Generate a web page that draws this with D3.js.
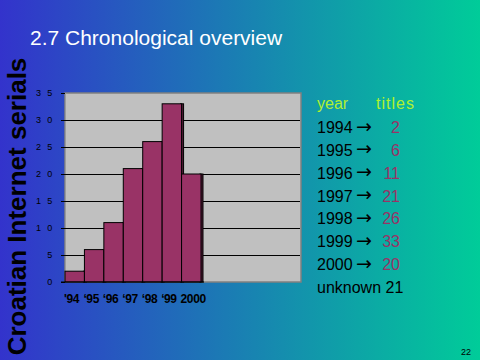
<!DOCTYPE html>
<html><head><meta charset="utf-8">
<script src="https://cdn.jsdelivr.net/npm/d3@7"></script>
<style>html,body{margin:0;padding:0;overflow:hidden;background:#000}svg{display:block}</style>
</head><body>
<script>
const categories = ["'94", "‘95", "‘96", "‘97", "‘98", "‘99", "2000"];
const titles = [2, 6, 11, 21, 26, 33, 20];
const years = ["1994", "1995", "1996", "1997", "1998", "1999", "2000"];
const yTicks = [0, 5, 10, 15, 20, 25, 30, 35];
const yTickLabels = ["0", "5", "1 0", "1 5", "2 0", "2 5", "3 0", "3 5"];
const unknownCount = 21;

const W = 480, H = 360;
const svg = d3.select("body").append("svg").attr("width", W).attr("height", H);
const defs = svg.append("defs");
const grad = defs.append("linearGradient").attr("id", "bg").attr("x1", "0").attr("x2", "1").attr("y1", "0").attr("y2", "0");
grad.append("stop").attr("offset", "0").attr("stop-color", "#3333cc");
grad.append("stop").attr("offset", "1").attr("stop-color", "#00cc99");
svg.append("rect").attr("width", W).attr("height", H).attr("fill", "url(#bg)");

const tf = "Liberation Sans, Arial, sans-serif";

// Slide title
svg.append("text").attr("x", 30).attr("y", 45).attr("fill", "#fff")
  .style("font-family", tf).style("font-size", "21px")
  .text("2.7 Chronological overview");

// Vertical title
svg.append("text").attr("transform", "translate(26,206.5) rotate(-90)")
  .attr("text-anchor", "middle").attr("fill", "#000")
  .style("font-family", tf).style("font-size", "26px").style("font-weight", "bold")
  .text("Croatian Internet serials");

// Plot
const px0 = 65, px1 = 301, py0 = 93, py1 = 282;
const y = d3.scaleLinear().domain([0, 35]).range([py1, py0]);
const x = d3.scaleBand().domain(categories).range([px0, 201]).padding(0);

svg.append("rect").attr("x", px0).attr("y", py0).attr("width", px1 - px0).attr("height", py1 - py0)
  .attr("fill", "#c0c0c0").attr("stroke", "#808080").attr("stroke-width", 1.5);
svg.append("line").attr("x1", px0 + 0.5).attr("x2", px0 + 0.5).attr("y1", py0).attr("y2", py1)
  .attr("stroke", "#9a9a9a").attr("stroke-width", 1);

// ticks + labels via axis
const yAxis = d3.axisLeft(y).tickValues(yTicks).tickSize(4)
  .tickFormat((d, i) => yTickLabels[i]);
const ga = svg.append("g").attr("transform", `translate(${px0},0)`).call(yAxis);
ga.select(".domain").remove();
ga.selectAll(".tick line").attr("stroke", "#000");
ga.selectAll(".tick text").attr("x", -11).attr("fill", "#000")
  .style("font-family", tf).style("font-size", "9px")
  .style("letter-spacing", "1.8px");
const grid = d3.axisLeft(y).tickValues(yTicks.filter(d => d > 0 && d < 35)).tickSize(-(px1 - px0 - 1)).tickFormat("");
const gg = svg.append("g").attr("transform", `translate(${px0},0)`).call(grid);
gg.select(".domain").remove();
gg.selectAll(".tick line").attr("stroke", "#000").attr("stroke-width", 1);

// bars with 3D right face
const depth = 3;
const bw = x.bandwidth();
const bars = svg.append("g").selectAll("g").data(titles).join("g");
bars.append("rect").attr("x", (d, i) => x(categories[i]) + bw - 1).attr("y", d => y(d))
  .attr("width", depth).attr("height", d => y(0) - y(d))
  .attr("fill", "#4d1a33").attr("stroke", "#000").attr("stroke-width", 1);
bars.append("rect").attr("x", (d, i) => x(categories[i])).attr("y", d => y(d))
  .attr("width", bw).attr("height", d => y(0) - y(d))
  .attr("fill", "#993366").attr("stroke", "#000").attr("stroke-width", 1);

svg.append("line").attr("x1", px0 - 4).attr("x2", x.range()[1] + depth).attr("y1", y(0)).attr("y2", y(0))
  .attr("stroke", "#000").attr("stroke-width", 1.2);

// x labels (left-aligned at each bar's left edge)
const xAxis = d3.axisBottom(x).tickSize(0).tickPadding(0);
const gx = svg.append("g").attr("transform", `translate(0,${py1})`).call(xAxis);
gx.select(".domain").remove();
gx.selectAll(".tick text").attr("x", -bw / 2 - 1).attr("y", 21).attr("dy", 0)
  .attr("text-anchor", "start").attr("fill", "#000")
  .style("font-family", tf).style("font-size", "12px").style("font-weight", "bold")
  .style("letter-spacing", "-0.4px");

// Table
const tbl = svg.append("g").style("font-family", tf).style("font-size", "16px");
tbl.append("text").attr("x", 317).attr("y", 108.5).attr("fill", "#b0f030").text("year");
tbl.append("text").attr("x", 376).attr("y", 108.5).attr("fill", "#b0f030").style("letter-spacing", "1px").text("titles");
const rowY = d3.scaleLinear().domain([0, 7]).range([133, 293]);
years.forEach((yr, i) => {
  tbl.append("text").attr("x", 317).attr("y", rowY(i)).attr("fill", "#000").text(yr);
  tbl.append("text").attr("x", 356).attr("y", rowY(i) - 0.5).attr("fill", "#000")
    .style("font-family", "DejaVu Sans").style("font-size", "19px").attr("textLength", 17).text("→");
  tbl.append("text").attr("x", 400).attr("y", rowY(i)).attr("text-anchor", "end").attr("fill", "#993366").text(titles[i]);
});
tbl.append("text").attr("x", 317).attr("y", rowY(7)).attr("fill", "#000").text("unknown " + unknownCount);

// page number
svg.append("text").attr("x", 461).attr("y", 355).attr("fill", "#000")
  .style("font-family", tf).style("font-size", "9px").text("22");
</script>
</body></html>
